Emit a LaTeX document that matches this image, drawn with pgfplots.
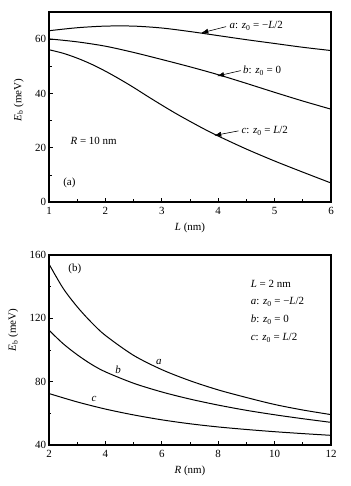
\documentclass[border=0pt]{standalone}
\usepackage{fontspec}
\setmainfont{Liberation Serif}
\usepackage{pgfplots}
\pgfplotsset{compat=1.18}
\usetikzlibrary{arrows.meta}
\newcommand{\ital}[1]{\textit{#1}}
\begin{document}
\fontsize{11}{13}\selectfont
\begin{tikzpicture}[x=1bp,y=1bp]
\pgfplotsset{
  every axis/.style={
    scale only axis, width=282bp, height=190bp,
    axis line style={line width=1.1pt},
    tick style={black, line width=0.7pt},
    tick align=inside,
    major tick length=4bp, minor tick length=2.5bp,
    /pgf/number format/assume math mode=true,
    ticklabel style={font=\fontsize{11}{13}\selectfont},
    xticklabel style={yshift=-1.5bp},
    yticklabel style={xshift=1bp},
    label style={font=\fontsize{11}{13}\selectfont},
    xtick pos=bottom, ytick pos=left,
    clip=false,
  },
  curve/.style={black, line width=1pt, smooth, no marks},
}
\begin{axis}[at={(49bp,284bp)}, anchor=south west,
  xmin=1, xmax=6, ymin=0, ymax=70,
  xtick={1,2,3,4,5,6}, minor xtick={1.5,2.5,3.5,4.5,5.5},
  ytick={0,20,40,60}, minor ytick={10,30,50,70},
  xlabel={\ital{L} (nm)}, ylabel={\ital{E}\textsubscript{b} (meV)},
  xlabel style={yshift=-1bp}, ylabel style={yshift=4bp, xshift=7bp}]
\addplot[curve] coordinates {(1,63.1) (1.5,64.2) (2,64.8) (2.5,64.8) (3,64.1) (3.5,62.8) (4,61.3) (4.5,59.8) (5,58.4) (5.5,57.0) (6,55.8)};
\addplot[curve] coordinates {(1,60.1) (1.5,59.0) (2,57.4) (2.5,55.1) (3,52.5) (3.5,49.8) (4,46.9) (4.5,43.7) (5,40.4) (5.5,37.2) (6,34.2)};
\addplot[curve] coordinates {(1,56.1) (1.25,54.8) (1.5,53.0) (1.75,50.8) (2,48.2) (2.25,45.3) (2.5,42.2) (2.75,38.9) (3,35.7) (3.25,32.6) (3.5,29.7) (3.75,26.9) (4,24.3) (4.5,19.5) (5,15.1) (5.5,11.0) (6,7.0)};
\draw[line width=0.6pt, -{Latex[length=7bp,width=5bp]}] (axis cs:4.14,64.6) -- (axis cs:3.70,62.3);
\draw[line width=0.6pt, -{Latex[length=7bp,width=5bp]}] (axis cs:4.40,48.4) -- (axis cs:3.98,46.4);
\draw[line width=0.6pt, -{Latex[length=7bp,width=5bp]}] (axis cs:4.36,26.2) -- (axis cs:3.93,24.5);
\node[anchor=west, inner sep=0pt] at (axis cs:4.2,64.9) {\ital{a}: \ital{z}\textsubscript{0} = −\ital{L}/2};
\node[anchor=west, inner sep=0pt] at (axis cs:4.44,48.3) {\ital{b}: \ital{z}\textsubscript{0} = 0};
\node[anchor=west, inner sep=0pt] at (axis cs:4.41,26.3) {\ital{c}: \ital{z}\textsubscript{0} = \ital{L}/2};
\node[anchor=west, inner sep=0pt] at (axis cs:1.38,22.5) {\ital{R} = 10 nm};
\node[anchor=west, inner sep=0pt] at (axis cs:1.25,7.2) {(a)};
\end{axis}
\begin{axis}[at={(49bp,41bp)}, anchor=south west,
  xmin=2, xmax=12, ymin=40, ymax=160,
  xtick={2,4,6,8,10,12}, minor xtick={3,5,7,9,11},
  ytick={40,80,120,160}, minor ytick={60,100,140},
  xlabel={\ital{R} (nm)}, ylabel={\ital{E}\textsubscript{b} (meV)},
  xlabel style={yshift=-1bp}, ylabel style={yshift=4bp, xshift=20bp}]
\addplot[curve] coordinates {(2,154.3) (2.5,139.0) (3,127.3) (3.5,117.5) (4,109.2) (5,96.6) (6,87.6) (7,80.6) (8,74.8) (9,70.0) (10,65.6) (11,62.1) (12,59.2)};
\addplot[curve] coordinates {(2,112.5) (2.5,104.0) (3,97.0) (3.5,91.0) (4,86.2) (5,79.0) (6,73.5) (7,69.0) (8,65.2) (9,61.9) (10,59.1) (11,56.6) (12,54.3)};
\addplot[curve] coordinates {(2,72.5) (3,67.2) (4,62.7) (5,59.0) (6,55.9) (7,53.4) (8,51.4) (9,49.8) (10,48.4) (11,47.2) (12,46.1)};
\node[inner sep=0pt] at (axis cs:5.9,92.3) {\ital{a}};
\node[inner sep=0pt] at (axis cs:4.45,87.6) {\ital{b}};
\node[inner sep=0pt] at (axis cs:3.6,69.0) {\ital{c}};
\node[anchor=west, inner sep=0pt] at (axis cs:2.68,151) {(b)};
\node[anchor=west, inner sep=0pt] at (axis cs:9.15,142) {\ital{L} = 2 nm};
\node[anchor=west, inner sep=0pt] at (axis cs:9.15,130.5) {\ital{a}: \ital{z}\textsubscript{0} = −\ital{L}/2};
\node[anchor=west, inner sep=0pt] at (axis cs:9.15,119) {\ital{b}: \ital{z}\textsubscript{0} = 0};
\node[anchor=west, inner sep=0pt] at (axis cs:9.15,107.5) {\ital{c}: \ital{z}\textsubscript{0} = \ital{L}/2};
\end{axis}
\path[use as bounding box] (0,0) rectangle (351bp,486bp);
\end{tikzpicture}
\end{document}
